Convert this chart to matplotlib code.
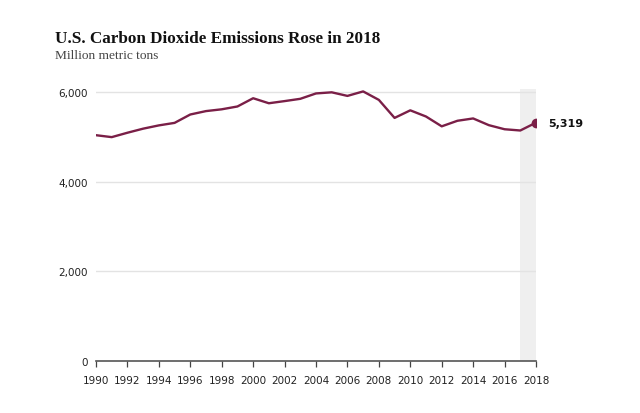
import numpy as np
import matplotlib.pyplot as plt

# Data (million metric tons of CO2)
years = list(range(1990, 2019))
emissions = [5039, 4996, 5094, 5185, 5258, 5314, 5501, 5577, 5617, 5680,
             5864, 5752, 5800, 5851, 5971, 5996, 5916, 6016, 5827, 5425,
             5594, 5456, 5237, 5361, 5413, 5263, 5172, 5144, 5319]
yticks = [0, 2000, 4000, 6000]
xticks = list(range(1990, 2019, 2))

line_color = '#7a1f47'

fig = plt.figure(figsize=(6.4, 4.14), dpi=100)
ax = fig.add_axes([0.15, 0.1256, 0.6875, 0.657])

# shaded latest year band
ax.axvspan(2017, 2018, color='#efefef', zorder=0, lw=0)

# gridlines
for yv in yticks[1:]:
    ax.axhline(yv, color='#e3e3e3', lw=1, zorder=1)

ax.plot(years, emissions, color=line_color, lw=1.7, zorder=3)
ax.plot(years[-1], emissions[-1], 'o', color=line_color, ms=6, zorder=4)
ax.annotate(f"{emissions[-1]:,}", (years[-1], emissions[-1]), xytext=(9, 0),
            textcoords='offset points', va='center', ha='left',
            fontsize=8, fontweight='bold', color='#111111', family='DejaVu Sans')

ax.set_xlim(1990, 2018)
ax.set_ylim(0, 6070)

for s in ['top', 'right', 'left']:
    ax.spines[s].set_visible(False)
ax.spines['bottom'].set_color('#555555')
ax.spines['bottom'].set_linewidth(1.2)

ax.set_yticks(yticks)
ax.set_yticklabels([f"{v:,}" for v in yticks])
ax.tick_params(axis='y', length=0, pad=6, labelsize=7.5, labelcolor='#222222')
ax.set_xticks(xticks)
ax.tick_params(axis='x', length=4, width=0.9, color='#444444', pad=6,
               labelsize=7.5, labelcolor='#222222')

fig.text(0.086, 0.895, 'U.S. Carbon Dioxide Emissions Rose in 2018',
         family='Liberation Serif', fontweight='bold', fontsize=12.3,
         color='#111111', va='baseline')
fig.text(0.086, 0.857, 'Million metric tons', family='Liberation Serif',
         fontsize=9.6, color='#444444', va='baseline')

fig.savefig('out.png', dpi=100)
